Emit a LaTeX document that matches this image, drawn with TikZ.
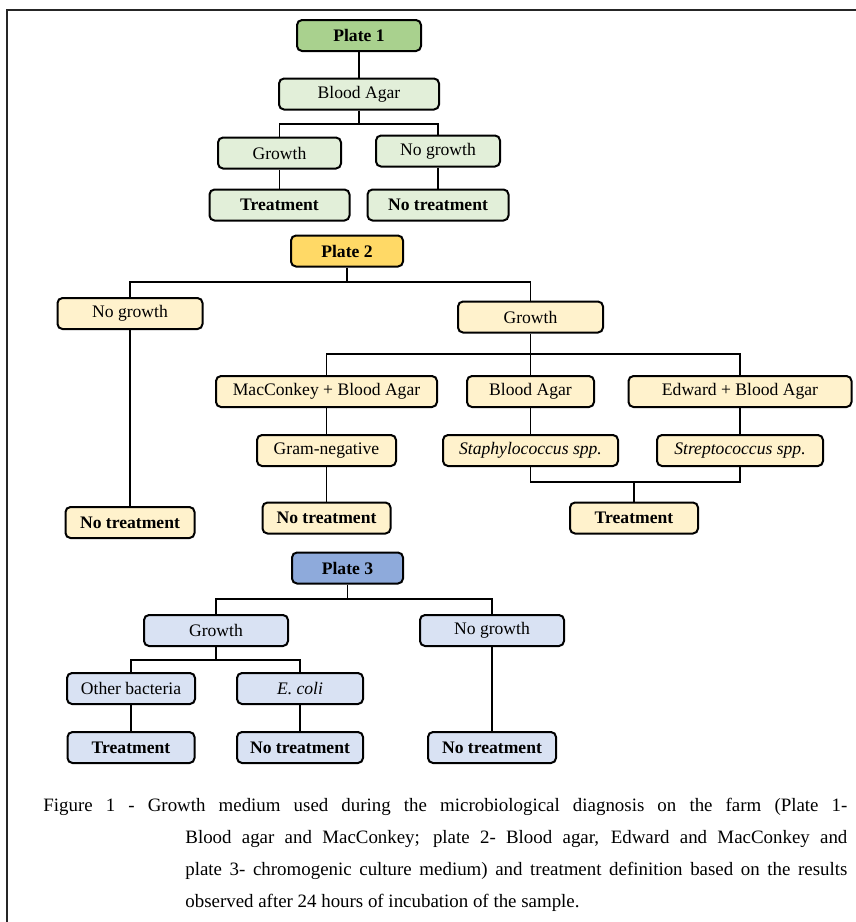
\documentclass[tikz,border=0pt]{standalone}
\usepackage{fontspec}
\setmainfont{Liberation Serif}
\usetikzlibrary{positioning}
\definecolor{plategreen}{HTML}{A9D18E}
\definecolor{leafgreen}{HTML}{E2EFD9}
\definecolor{plategold}{HTML}{FFD966}
\definecolor{leafgold}{HTML}{FFF2CC}
\definecolor{plateblue}{HTML}{8EAADB}
\definecolor{leafblue}{HTML}{D9E2F3}
\newcommand{\boxfont}{\fontsize{8.8}{10.5}\selectfont}

\begin{document}
\begin{tikzpicture}[x=0.5pt, y=-0.5pt,
    box/.style={draw, line width=1pt, rounded corners=2.5pt, minimum height=15.5pt,
                inner sep=0pt, font=\boxfont},
    plate/.style={box, font=\boxfont\bfseries},
    result/.style={box, font=\boxfont\bfseries},
    link/.style={line width=0.95pt},
  ]
    \useasboundingbox (0,0) rectangle (856,922);
    \draw[line width=0.6pt, black!85] (7,922) -- (7,10) -- (856,10);

    % Plate 1
    \node[plate, fill=plategreen, minimum width=62pt]  (p1)   at (359,35.5) {Plate 1};
    \node[box, fill=leafgreen, minimum width=80pt]     (ba1)  at (359,94)   {Blood Agar};
    \node[box, fill=leafgreen, minimum width=61.5pt]   (g1)   at (279.5,153) {Growth};
    \node[box, fill=leafgreen, minimum width=62pt]     (ng1)  at (438,151)  {No growth};
    \node[result, fill=leafgreen, minimum width=70pt]  (t1)   at (279.5,205) {Treatment};
    \node[result, fill=leafgreen, minimum width=70.5pt] (nt1) at (438,205)  {No treatment};
    \coordinate (b1) at (359,124);

    \draw[link] (p1) -- (ba1);
    \draw[link] (ba1) -- (b1);
    \draw[link] (g1) |- (b1) -| (ng1);
    \draw[link] (g1) -- (t1);
    \draw[link] (ng1) -- (nt1);

    % Plate 2
    \node[plate, fill=plategold, minimum width=56pt]   (p2)   at (347,251)   {Plate 2};
    \node[box, fill=leafgold, minimum width=72.5pt]    (ng2)  at (130,313.5) {No growth};
    \node[result, fill=leafgold, minimum width=64.5pt] (nt2a) at (130,522.5) {No treatment};
    \node[box, fill=leafgold, minimum width=72.5pt]    (g2)   at (530.5,317) {Growth};
    \node[box, fill=leafgold, minimum width=110.5pt]   (mac)  at (326.5,391.5) {MacConkey + Blood Agar};
    \node[box, fill=leafgold, minimum width=63.5pt]    (ba2)  at (530.5,391.5) {Blood Agar};
    \node[box, fill=leafgold, minimum width=111.5pt]   (edw)  at (740,391.5) {Edward + Blood Agar};
    \node[box, fill=leafgold, minimum width=69.5pt]    (gram) at (326.5,450.5) {Gram-negative};
    \node[result, fill=leafgold, minimum width=64pt]   (nt2b) at (326.5,518) {No treatment};
    \node[box, fill=leafgold, minimum width=87.5pt]    (staph) at (530.5,450.5) {\itshape Staphylococcus spp.};
    \node[box, fill=leafgold, minimum width=83pt]      (strep) at (740,450.5) {\itshape Streptococcus spp.};
    \node[result, fill=leafgold, minimum width=64pt]   (t2)   at (634,518) {Treatment};
    \coordinate (b2) at (347,282);
    \coordinate (b3) at (530.5,354);
    \coordinate (j2) at (634,482);

    \draw[link] (p2) -- (b2);
    \draw[link] (ng2) |- (b2) -| (g2);
    \draw[link] (ng2) -- (nt2a);
    \draw[link] (g2) -- (b3);
    \draw[link] (mac) |- (b3) -| (edw);
    \draw[link] (b3) -- (ba2);
    \draw[link] (mac) -- (gram);
    \draw[link] (gram) -- (nt2b);
    \draw[link] (ba2) -- (staph);
    \draw[link] (edw) -- (strep);
    \draw[link] (staph) |- (j2) -| (strep);
    \draw[link] (j2) -- (t2);

    % Plate 3
    \node[plate, fill=plateblue, minimum width=55.5pt] (p3)   at (347.5,568) {Plate 3};
    \node[box, fill=leafblue, minimum width=72pt]      (g3)   at (216,630.5) {Growth};
    \node[box, fill=leafblue, minimum width=72pt]      (ng3)  at (492,630.5) {No growth};
    \node[box, fill=leafblue, minimum width=64pt]      (oth)  at (131,688.5) {Other bacteria};
    \node[box, fill=leafblue, minimum width=63pt]      (ecoli) at (300,688.5) {\itshape E. coli};
    \node[result, fill=leafblue, minimum width=63.5pt] (t3)   at (131,747.5) {Treatment};
    \node[result, fill=leafblue, minimum width=63pt]   (nt3a) at (300,747.5) {No treatment};
    \node[result, fill=leafblue, minimum width=64pt]   (nt3b) at (492,747.5) {No treatment};
    \coordinate (b4) at (347.5,599);
    \coordinate (b5) at (216,660);

    \draw[link] (p3) -- (b4);
    \draw[link] (g3) |- (b4) -| (ng3);
    \draw[link] (g3) -- (b5);
    \draw[link] (oth) |- (b5) -| (ecoli);
    \draw[link] (oth) -- (t3);
    \draw[link] (ecoli) -- (nt3a);
    \draw[link] (ng3) -- (nt3b);

    % caption
    \node[anchor=base west, inner sep=0pt, font=\fontsize{9.45}{16}\selectfont] (cap) at (43,811)
      {\parbox[t]{402pt}{\hyphenpenalty=10000\hangindent=71pt\hangafter=1
        Figure 1 - Growth medium used during the microbiological diagnosis on the farm (Plate 1-\linebreak
        Blood agar and MacConkey; plate 2- Blood agar, Edward and MacConkey and\linebreak
        plate 3- chromogenic culture medium) and treatment definition based on the results\linebreak
        observed after 24 hours of incubation of the sample.}};
  \end{tikzpicture}
\end{document}
